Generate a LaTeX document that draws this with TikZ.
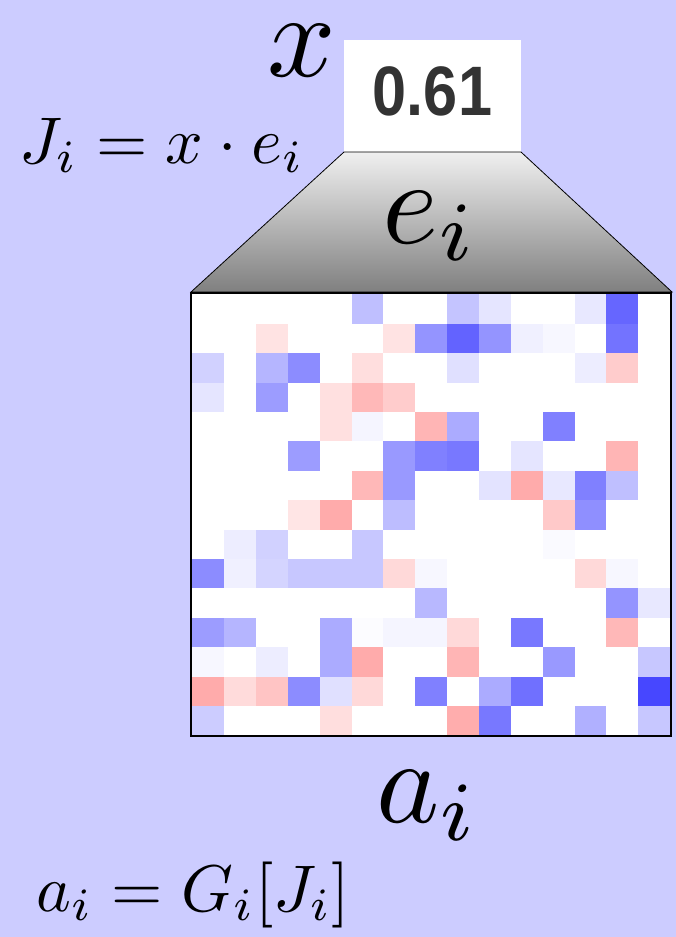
\documentclass[tikz,border=0pt]{standalone}
\usepackage{fontspec}
\newfontfamily\numfont{Liberation Sans}
\definecolor{bgcol}{RGB}{204,204,255}
\definecolor{numcol}{RGB}{51,51,51}
\tikzset{
  bigmath/.style={inner sep=0pt, scale=12},
  smallmath/.style={inner sep=0pt, scale=6.6},
}
\begin{document}
\begin{tikzpicture}[x=1pt,y=-1pt]
\fill[bgcol] (0,0) rectangle (676,937);
\useasboundingbox (0,0) rectangle (676,937);
% white value box
\fill[white] (344,40) rectangle (521,152);
\node[inner sep=0pt, anchor=base, text=numcol, font=\numfont\bfseries\fontsize{70}{76}\selectfont, xscale=0.875] (val) at (432.5,115) {0.61};
% trapezoid
\shade[top color=black!6, bottom color=black!50] (344,152) -- (521,152) -- (672,292) -- (191,292) -- cycle;
\draw[black, line width=0.8pt] (344,152) -- (521,152) -- (672,292) -- (191,292) -- cycle;
% grid
\def\gx{192.3}\def\gy{294.3}\def\cw{31.85}\def\ch{29.4}
\fill[white] (191,293) rectangle (671,736);
\foreach \r/\c/\col in {
1/6/blue!25, 1/9/blue!23, 1/10/blue!10, 1/13/blue!9, 1/14/blue!60,
2/3/red!11, 2/7/red!11, 2/8/blue!42, 2/9/blue!61, 2/10/blue!42, 2/11/blue!6, 2/12/blue!3, 2/14/blue!55,
3/1/blue!18, 3/3/blue!29, 3/4/blue!45, 3/6/red!13, 3/9/blue!12, 3/13/blue!7, 3/14/red!20,
4/1/blue!10, 4/3/blue!39, 4/5/red!12, 4/6/red!28, 4/7/red!20,
5/5/red!12, 5/6/blue!4, 5/8/red!29, 5/9/blue!33, 5/12/blue!50,
6/4/blue!39, 6/7/blue!40, 6/8/blue!50, 6/9/blue!53, 6/11/blue!10, 6/14/red!29,
7/6/red!28, 7/7/blue!40, 7/10/blue!11, 7/11/red!33, 7/12/blue!9, 7/13/blue!50, 7/14/blue!25,
8/4/red!10, 8/5/red!33, 8/7/blue!26, 8/12/red!21, 8/13/blue!44,
9/2/blue!7, 9/3/blue!18, 9/6/blue!22, 9/12/blue!2,
10/1/blue!45, 10/2/blue!6, 10/3/blue!17, 10/4/blue!22, 10/5/blue!22, 10/6/blue!22, 10/7/red!15, 10/8/blue!3, 10/13/red!15, 10/14/blue!3,
11/8/blue!28, 11/14/blue!42, 11/15/blue!9,
12/1/blue!39, 12/2/blue!29, 12/5/blue!33, 12/6/blue!1, 12/7/blue!4, 12/8/blue!4, 12/9/red!15, 12/11/blue!53, 12/14/red!28,
13/1/blue!3, 13/3/blue!7, 13/5/blue!33, 13/6/red!33, 13/9/red!29, 13/12/blue!40, 13/15/blue!22,
14/1/red!33, 14/2/red!14, 14/3/red!23, 14/4/blue!45, 14/5/blue!12, 14/6/red!15, 14/8/blue!50, 14/10/blue!33, 14/11/blue!56, 14/15/blue!72,
15/1/blue!20, 15/5/red!13, 15/9/red!32, 15/10/blue!53, 15/13/blue!31, 15/15/blue!22}
{
  \fill[\col] ({\gx+(\c-1)*\cw},{\gy+(\r-1)*\ch}) rectangle ({\gx+\c*\cw},{\gy+\r*\ch});
}
\draw[black, line width=2.5pt] (191,293) rectangle (671,736);
% labels
\node[bigmath, anchor=base west] (xlab) at (265,76) {$x$};
\node[bigmath, anchor=base west] (elab) at (380,243) {$e_i$};
\node[bigmath, anchor=base west] (alab) at (374,822) {$a_i$};
\node[smallmath, anchor=base west] (jform) at (18,163) {$J_i = x\cdot e_i$};
\node[smallmath, anchor=base west] (aform) at (35,911) {$a_i = G_i[J_i]$};
\end{tikzpicture}
\end{document}
